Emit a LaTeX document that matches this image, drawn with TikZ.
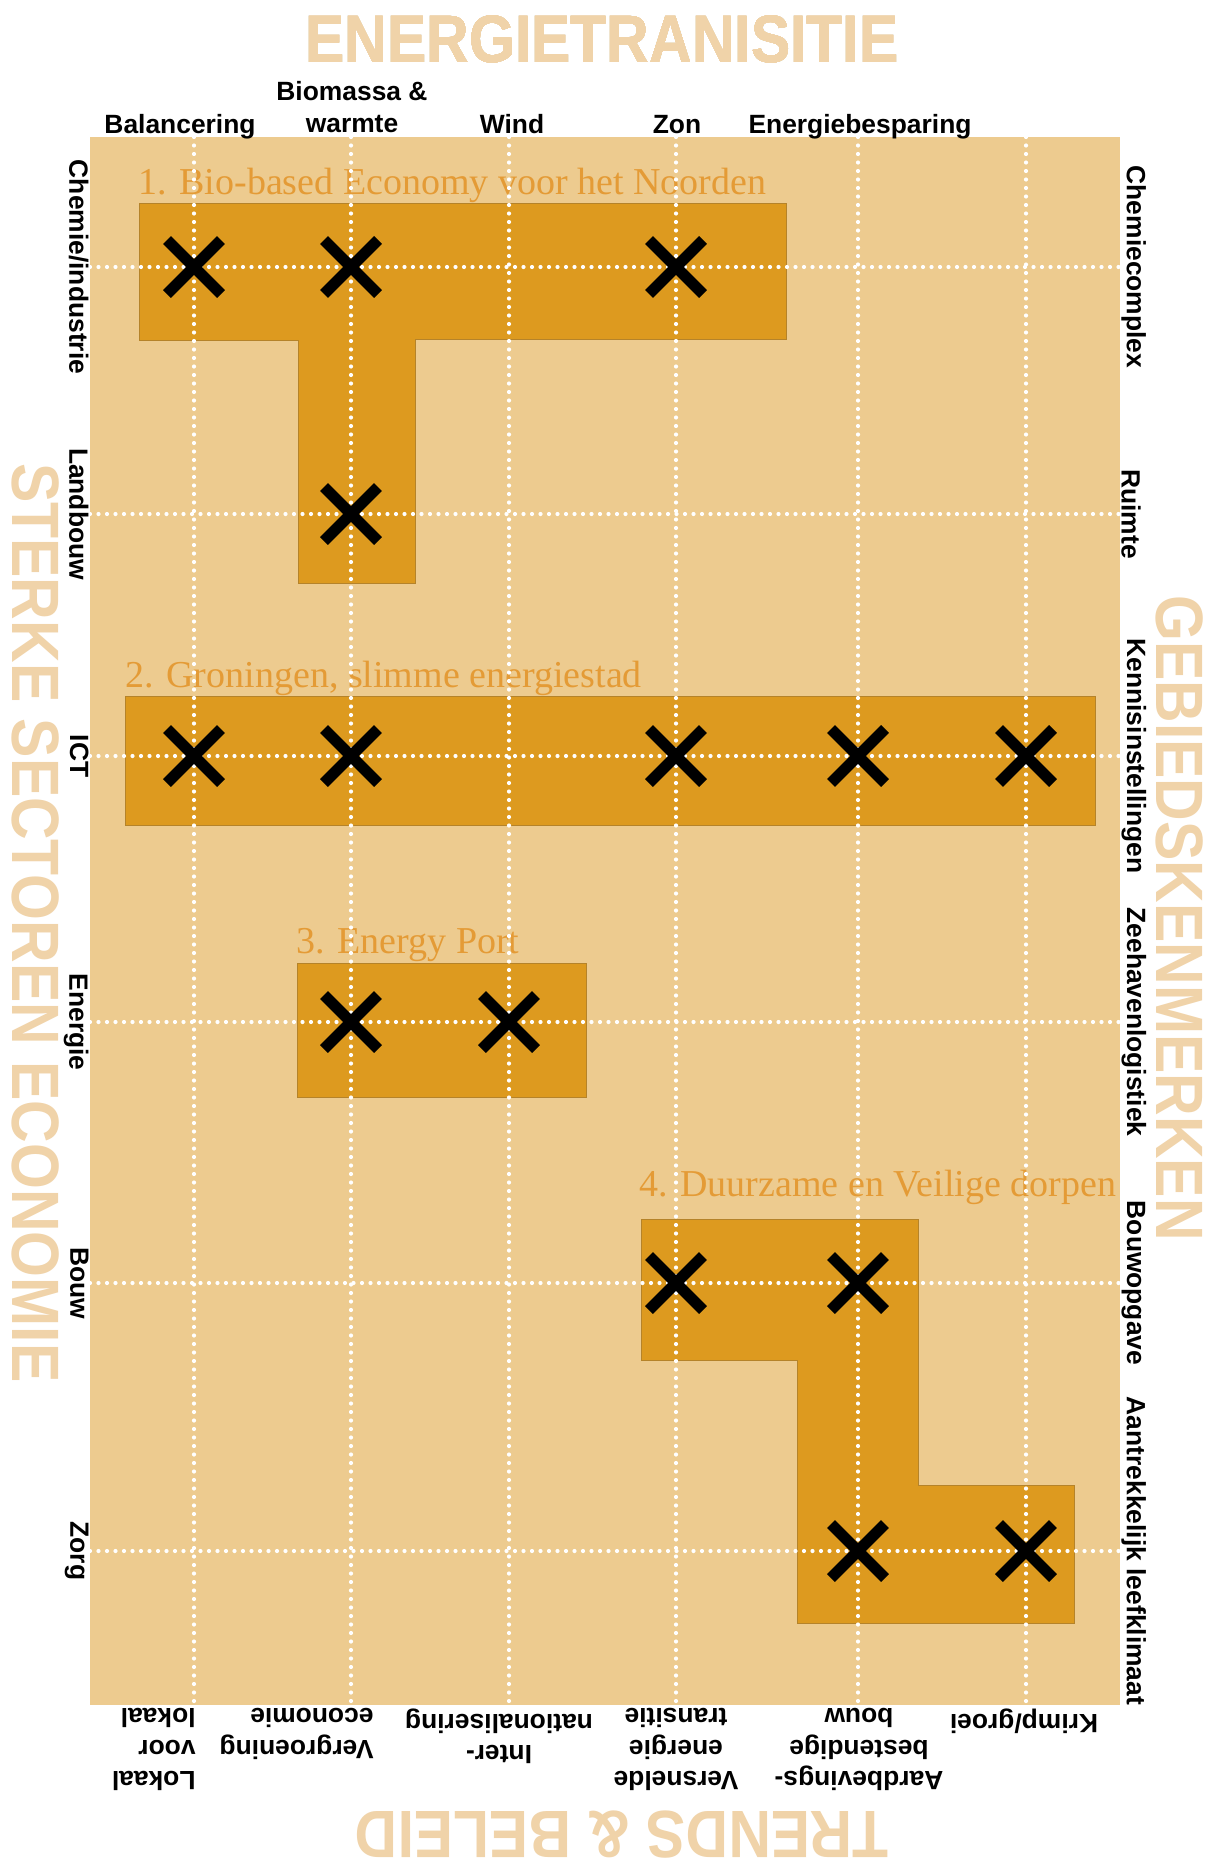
\documentclass[tikz,border=0pt]{standalone}
\usepackage{fontspec}
\setmainfont{Liberation Serif}
\newfontfamily\labelfont{Liberation Sans}
\newfontfamily\kopfont[FakeStretch=0.88]{Liberation Sans}
\usepackage{tikz}
\definecolor{achtergrond}{HTML}{EDCB8F}
\definecolor{vlak}{HTML}{DD9A1F}
\definecolor{rand}{HTML}{B5832A}
\definecolor{koptekst}{HTML}{E49B36}
\definecolor{asnaam}{HTML}{F0D3A9}
\tikzset{
  vak/.style={fill=vlak,draw=rand,line width=0.4pt},
  raster/.style={white,line width=2.1pt,line cap=round,dash pattern=on 0pt off 4.25pt},
  kruis/.style={line width=5.6pt},
  lbl/.style={inner sep=0pt,font=\labelfont\bfseries\fontsize{13.2}{15.8}\selectfont},
  kop/.style={inner sep=0pt,text=koptekst,font=\fontsize{19}{22}\selectfont},
  asnm/.style={inner sep=0pt,text=asnaam,font=\kopfont\bfseries\fontsize{33.5}{40}\selectfont}
}
\newcommand{\kruis}[2]{\draw[kruis] ({#1-27},{#2-27}) -- ({#1+27},{#2+27}) ({#1-27},{#2+27}) -- ({#1+27},{#2-27});}

\begin{document}
\begin{tikzpicture}[x=0.5pt,y=-0.5pt]
\path[use as bounding box,fill=white] (0,0) rectangle (1208,1863);
\fill[achtergrond] (90,137) rectangle (1120,1705);
% clusters
\draw[vak] (139,203) -- (786,203) -- (786,339) -- (415,339) -- (415,583) -- (298,583) -- (298,340) -- (139,340) -- cycle;
\draw[vak] (125,696) rectangle (1095,825);
\draw[vak] (297,963) rectangle (586,1097);
\draw[vak] (641,1219) -- (918,1219) -- (918,1485) -- (1074,1485) -- (1074,1623) -- (797,1623) -- (797,1360) -- (641,1360) -- cycle;
\node[kop,anchor=base west] (kop1) at (138,194) {1. Bio-based Economy voor het Noorden};
\node[kop,anchor=base west] (kop2) at (125,687) {2. Groningen, slimme energiestad};
\node[kop,anchor=base west] (kop3) at (296,953) {3. Energy Port};
\node[kop,anchor=base west] (kop4) at (639,1196) {4. Duurzame en Veilige dorpen};
% raster
\foreach \k in {194,351,509,676,858,1026} \draw[raster] (\k,137) -- (\k,1705);
\foreach \r in {267,514,756,1022,1283,1551} \draw[raster] (90,\r) -- (1120,\r);
% kruisjes
\foreach \k/\r in {194/267,351/267,676/267,351/514,194/756,351/756,676/756,858/756,1026/756,351/1022,509/1022,676/1283,858/1283,858/1551,1026/1551} \kruis{\k}{\r}
% assen
\node[asnm] (transitie) at (602,39) {ENERGIETRANISITIE};
\node[asnm,rotate=-90] (sectoren) at (36,923) {STERKE SECTOREN ECONOMIE};
\node[asnm,rotate=-90] (gebied) at (1180,918) {GEBIEDSKENMERKEN};
\node[asnm,rotate=180] (trends) at (622,1835) {TRENDS \& BELEID};
% bovenkant
\node[lbl,anchor=base] (balancering) at (180,133) {Balancering};
\node[lbl,anchor=south,align=center] (biomassa) at (352,133) {Biomassa \&\\warmte};
\node[lbl,anchor=base] (wind) at (512,133) {Wind};
\node[lbl,anchor=base] (zon) at (677,133) {Zon};
\node[lbl,anchor=base] (besparing) at (860,133) {Energiebesparing};
% links
\node[lbl,rotate=-90,anchor=north] (chemie) at (89,267) {Chemie/industrie};
\node[lbl,rotate=-90,anchor=north] (landbouw) at (89,514) {Landbouw};
\node[lbl,rotate=-90,anchor=north] (ict) at (89,756) {ICT};
\node[lbl,rotate=-90,anchor=north] (energie) at (89,1022) {Energie};
\node[lbl,rotate=-90,anchor=north] (bouw) at (89,1283) {Bouw};
\node[lbl,rotate=-90,anchor=north] (zorg) at (89,1551) {Zorg};
% rechts
\node[lbl,rotate=-90,anchor=south] (complex) at (1121,267) {Chemiecomplex};
\node[lbl,rotate=-90,anchor=south] (ruimte) at (1121,514) {Ruimte};
\node[lbl,rotate=-90,anchor=south] (kennis) at (1121,756) {Kennisinstellingen};
\node[lbl,rotate=-90,anchor=south] (zeehaven) at (1121,1022) {Zeehavenlogistiek};
\node[lbl,rotate=-90,anchor=south] (opgave) at (1121,1283) {Bouwopgave};
\node[lbl,rotate=-90,anchor=south] (leefklimaat) at (1121,1551) {Aantrekkelijk leefklimaat};
% onderkant
\node[lbl,rotate=180,anchor=south west,align=left] (lokaal) at (196,1708) {Lokaal\\voor\\lokaal};
\node[lbl,rotate=180,anchor=south west,align=left] (vergroening) at (374,1708) {Vergroening\\economie};
\node[lbl,rotate=180,anchor=south,align=center] (inter) at (499,1708) {Inter-\\nationalisering};
\node[lbl,rotate=180,anchor=south,align=center] (versnelde) at (676,1708) {Versnelde\\energie\\transitie};
\node[lbl,rotate=180,anchor=south,align=center] (aardbeving) at (859,1708) {Aardbevings-\\bestendige\\bouw};
\node[lbl,rotate=180,anchor=south] (krimp) at (1024,1708) {Krimp/groei};
\end{tikzpicture}
\end{document}
